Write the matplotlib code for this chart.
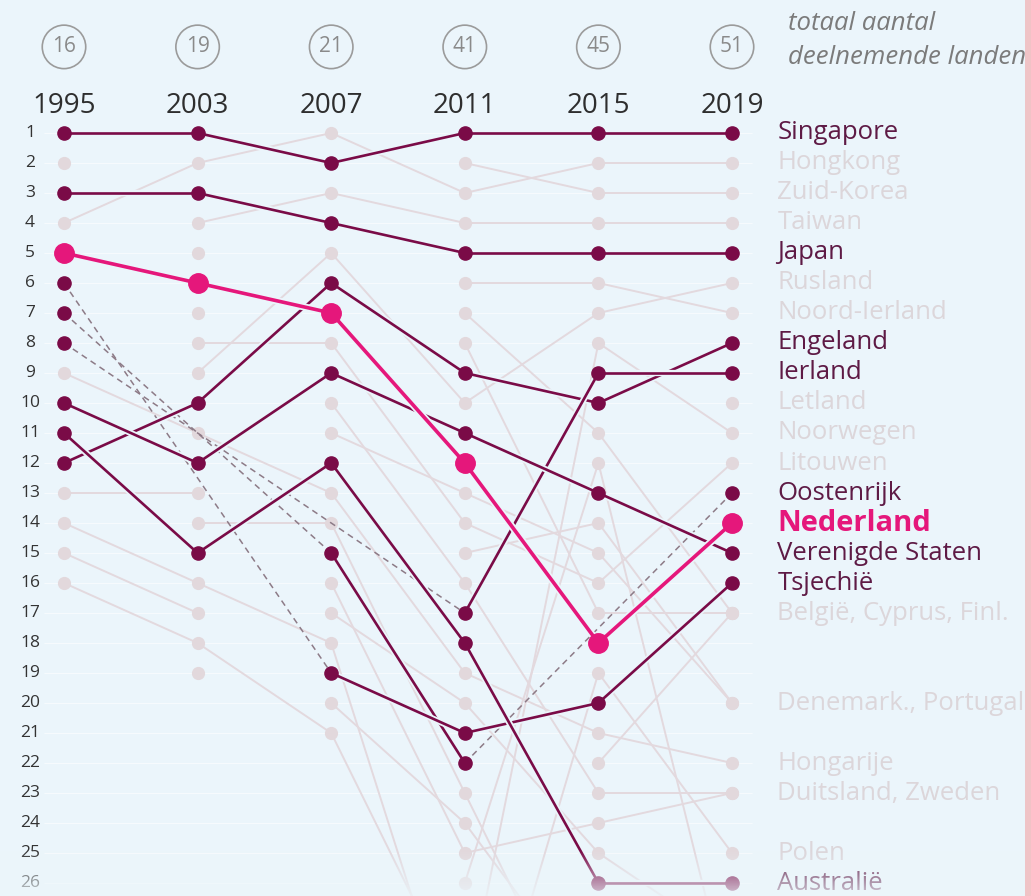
import matplotlib.pyplot as plt
import matplotlib.patheffects as pe
from matplotlib.patches import Rectangle
import numpy as np

nan = np.nan

# data
years = ["1995", "2003", "2007", "2011", "2015", "2019"]
participants = [16, 19, 21, 41, 45, 51]
rank_ticks = list(range(1, 27))

# highlighted countries (rank per year, nan = not participating)
nederland = [5, 6, 7, 12, 18, 14]
singapore = [1, 1, 2, 1, 1, 1]
japan = [3, 3, 4, 5, 5, 5]
engeland = [12, 10, 6, 9, 10, 8]
ierland = [8, nan, nan, 17, 9, 9]
oostenrijk = [7, nan, 15, 22, nan, 13]
verenigde_staten = [10, 12, 9, 11, 13, 15]
tsjechie = [6, nan, 19, 21, 20, 16]
australie = [11, 15, 12, 18, 26, 26]

# background countries
other_ranks = {
    "Hongkong": [4, 2, 1, 3, 2, 2],
    "Zuid-Korea": [2, nan, nan, 2, 3, 3],
    "Taiwan": [nan, 4, 3, 4, 4, 4],
    "Rusland": [nan, 9, 5, 10, 7, 6],
    "Noord-Ierland": [nan, nan, nan, 6, 6, 7],
    "Belgie": [nan, 5, nan, 7, 11, 17],
    "Finland": [nan, nan, nan, 8, 17, 17],
    "Letland": [nan, 7, nan, nan, nan, 10],
    "Litouwen": [nan, 8, 8, 14, 16, 12],
    "Noorwegen": [16, 18, 21, 30, 8, 11],
    "Denemarken": [nan, nan, 11, 13, 15, 20],
    "Portugal": [nan, nan, nan, 15, 14, 20],
    "Duitsland": [nan, nan, 10, 16, 23, 23],
    "Hongarije": [9, 11, 13, 19, 21, 22],
    "Cyprus": [13, 13, nan, nan, 22, 17],
    "Zweden": [nan, nan, 16, 25, 24, 23],
    "Polen": [nan, nan, nan, 34, 19, 25],
    "Italie": [nan, 14, 14, 23, 32, 35],
    "Nieuw-Zeeland": [14, 16, 18, 32, nan, 38],
    "Slovenie": [nan, nan, 17, 20, 25, 28],
    "Slowakije": [nan, nan, 20, 24, 30, 31],
    "Kazachstan": [nan, nan, nan, 26, 12, 30],
    "Schotland": [15, 17, nan, nan, nan, nan],
    "Armenie": [nan, 19, nan, nan, nan, nan],
}

label_texts = ["Singapore", "Hongkong", "Zuid-Korea", "Taiwan", "Japan", "Rusland",
               "Noord-Ierland", "Engeland", "Ierland", "Letland", "Noorwegen",
               "Litouwen", "Oostenrijk", "Nederland", "Verenigde Staten", "Tsjechië",
               "België, Cyprus, Finl.", "Denemark., Portugal", "Hongarije",
               "Duitsland, Zweden", "Polen", "Australië"]
label_ranks = [1, 2, 3, 4, 5, 6, 7, 8, 9, 10, 11, 12, 13, 14, 15, 16, 17, 20, 22, 23, 25, 26]
label_dark = [True, False, False, False, True, False, False, True, True, False, False,
              False, True, True, True, True, False, False, False, False, False, True]

BG = "#ebf5fb"
DARK = "#7a0b47"
PINK = "#e5177b"
GRAY_LINE = "#e3d9de"
GRAY_DOT = "#e2d8dc"
DASH = "#8d7b87"
TEXT_DARK = "#5e1a45"
TEXT_GRAY = "#dcd6da"

plt.rcParams["font.family"] = ["Open Sans", "DejaVu Sans"]

fig = plt.figure(figsize=(10.31, 8.96), dpi=100)
fig.patch.set_facecolor(BG)
ax = fig.add_axes([0, 0, 1, 1])
ax.set_facecolor(BG)
x = np.arange(len(years))

# faint row bands
ax.hlines(rank_ticks, -0.15, 5.15, color="white", lw=0.8, alpha=0.6, zorder=0)

# background countries
for name, vals in other_ranks.items():
    v = np.array(vals, dtype=float)
    for i in range(len(v) - 1):
        if not np.isnan(v[i]) and not np.isnan(v[i + 1]):
            ax.plot(x[i:i + 2], v[i:i + 2], color=GRAY_LINE, lw=1.4, zorder=1)
    ok = ~np.isnan(v)
    ax.plot(x[ok], v[ok], "o", ms=8.5, color=GRAY_DOT, zorder=2)


def draw_country(vals, color, lw, ms, z):
    v = np.array(vals, dtype=float)
    idx = [i for i in range(len(v)) if not np.isnan(v[i])]
    for a, b in zip(idx[:-1], idx[1:]):
        if b == a + 1:
            ax.plot([x[a], x[b]], [v[a], v[b]], color=color, lw=lw, zorder=z,
                    solid_capstyle="round",
                    path_effects=[pe.Stroke(linewidth=lw + 2.6, foreground=BG), pe.Normal()])
        else:
            ax.plot([x[a], x[b]], [v[a], v[b]], color=DASH, lw=1.1, zorder=z - 1,
                    dashes=(4, 3))
    ax.plot(x[idx], v[idx], "o", ms=ms, color=color, zorder=z + 1)


for country in [singapore, japan, engeland, ierland, oostenrijk, verenigde_staten,
                tsjechie, australie]:
    draw_country(country, DARK, 1.9, 9.5, 4)
draw_country(nederland, PINK, 2.6, 14, 7)

# header: participant circles and years
ax.scatter(x, [-1.87] * len(x), s=980, facecolors="none", edgecolors="#9b9b9b",
           linewidths=1.2, zorder=3)
for i, n in enumerate(participants):
    ax.text(x[i], -1.87, str(n), ha="center", va="center", fontsize=15,
            color="#8a8a8a")
    ax.text(x[i], 0.1, years[i], ha="center", va="center", fontsize=20,
            color="#2e2e2e")
ax.text(5.42, -2.65, "totaal aantal", ha="left", va="center", fontsize=18.5,
        style="italic", color="#7b7b7b")
ax.text(5.42, -1.5, "deelnemende landen", ha="left", va="center", fontsize=18.5,
        style="italic", color="#7b7b7b")

# rank numbers on the left
for r in rank_ticks:
    ax.text(-0.254, r, str(r), ha="center", va="center", fontsize=12.5,
            color="#333333")

# country labels at the right
for txt, r, dark in zip(label_texts, label_ranks, label_dark):
    if txt == "Nederland":
        ax.text(5.34, r, txt, ha="left", va="center", fontsize=21,
                fontweight="bold", color=PINK)
    else:
        ax.text(5.34, r, txt, ha="left", va="center", fontsize=18.5,
                color=TEXT_DARK if dark else TEXT_GRAY)

# fade at the bottom
fade = np.zeros((60, 1, 4))
fade[:, :, :3] = [0.922, 0.961, 0.984]
fade[:, 0, 3] = np.linspace(0, 0.8, 60)
ax.imshow(fade, extent=(-0.479, 7.238, 26.433, 24.9), aspect="auto", zorder=10)

ax.set_xlim(-0.479, 7.238)
ax.set_ylim(26.433, -3.433)
ax.axis("off")

# pink border strip at the right edge
fig.patches.append(Rectangle((1025 / 1031, 0), 6 / 1031, 1, transform=fig.transFigure,
                             facecolor="#f0c3c6", edgecolor="none"))

fig.savefig("out.png", dpi=100, facecolor=BG)
